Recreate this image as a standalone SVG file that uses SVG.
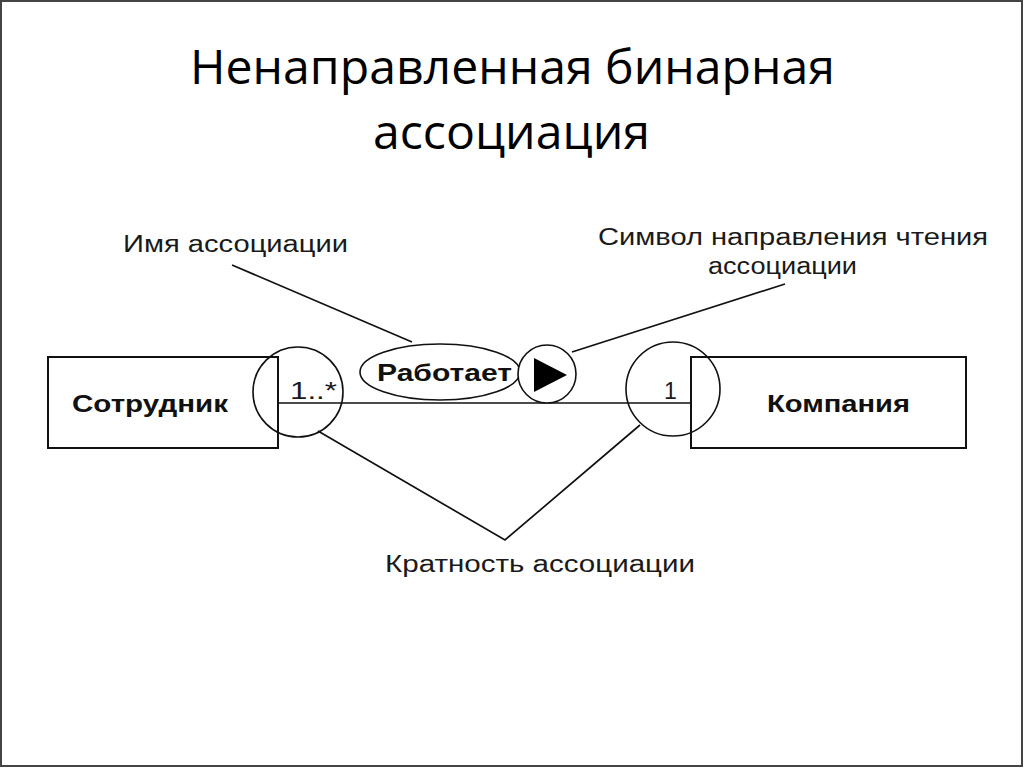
<svg xmlns="http://www.w3.org/2000/svg" width="1024" height="768" viewBox="0 0 1024 768">
<style>
.title{font-family:"Open Sans","Noto Sans","Liberation Sans",sans-serif;font-size:47.5px;fill:#000}
.lbl{font-family:"Liberation Sans",Arial,sans-serif;font-size:23px;fill:#1a1a1a}
.bold{font-family:"Liberation Sans",Arial,sans-serif;font-size:23px;font-weight:bold;fill:#111}
.shape{fill:none;stroke:#111;stroke-width:1.6}
.box{fill:#fff;stroke:#111;stroke-width:2}
.ln{stroke:#111;stroke-width:1.7;fill:none}
</style>
<rect x="1" y="1" width="1021" height="765" fill="#fff" stroke="#444" stroke-width="2"/>
<g id="title">
<text class="title" x="190" y="84" textLength="645" lengthAdjust="spacingAndGlyphs">Ненаправленная бинарная</text>
<text class="title" x="373" y="149" textLength="277" lengthAdjust="spacingAndGlyphs">ассоциация</text>
</g>
<g id="node-employee">
<rect class="box" x="48" y="357" width="230" height="91"/>
<text class="bold" x="72" y="412" textLength="156" lengthAdjust="spacingAndGlyphs">Сотрудник</text>
</g>
<g id="node-company">
<rect class="box" x="691" y="357" width="275" height="91"/>
<text class="bold" x="767" y="412" textLength="143" lengthAdjust="spacingAndGlyphs">Компания</text>
</g>
<g id="connectors">
<line class="ln" x1="278" y1="403" x2="691" y2="403"/>
<line class="ln" x1="232" y1="265" x2="412" y2="342"/>
<line class="ln" x1="785" y1="284" x2="572" y2="352"/>
<polyline class="ln" points="318,431 505,540 640,425"/>
</g>
<g id="mult-left">
<circle class="shape" cx="298" cy="392" r="45"/>
<text class="lbl" x="290" y="399" textLength="47" lengthAdjust="spacingAndGlyphs">1..*</text>
</g>
<g id="mult-right">
<circle class="shape" cx="673" cy="389" r="47"/>
<text class="lbl" x="664" y="399">1</text>
</g>
<g id="assoc-name">
<ellipse cx="440" cy="372" rx="80" ry="28" fill="#fff" stroke="#111" stroke-width="1.6"/>
<text class="bold" x="377" y="381" textLength="135" lengthAdjust="spacingAndGlyphs">Работает</text>
</g>
<g id="direction">
<circle cx="547" cy="374" r="29" fill="#fff" stroke="#111" stroke-width="1.6"/>
<polygon points="534,358 567,375 534,392" fill="#000"/>
</g>
<g id="labels">
<text class="lbl" x="123" y="252" textLength="225" lengthAdjust="spacingAndGlyphs">Имя ассоциации</text>
<text class="lbl" x="598" y="245" textLength="390" lengthAdjust="spacingAndGlyphs">Символ направления чтения</text>
<text class="lbl" x="708" y="274" textLength="149" lengthAdjust="spacingAndGlyphs">ассоциации</text>
<text class="lbl" x="385" y="572" textLength="310" lengthAdjust="spacingAndGlyphs">Кратность ассоциации</text>
</g>
</svg>
